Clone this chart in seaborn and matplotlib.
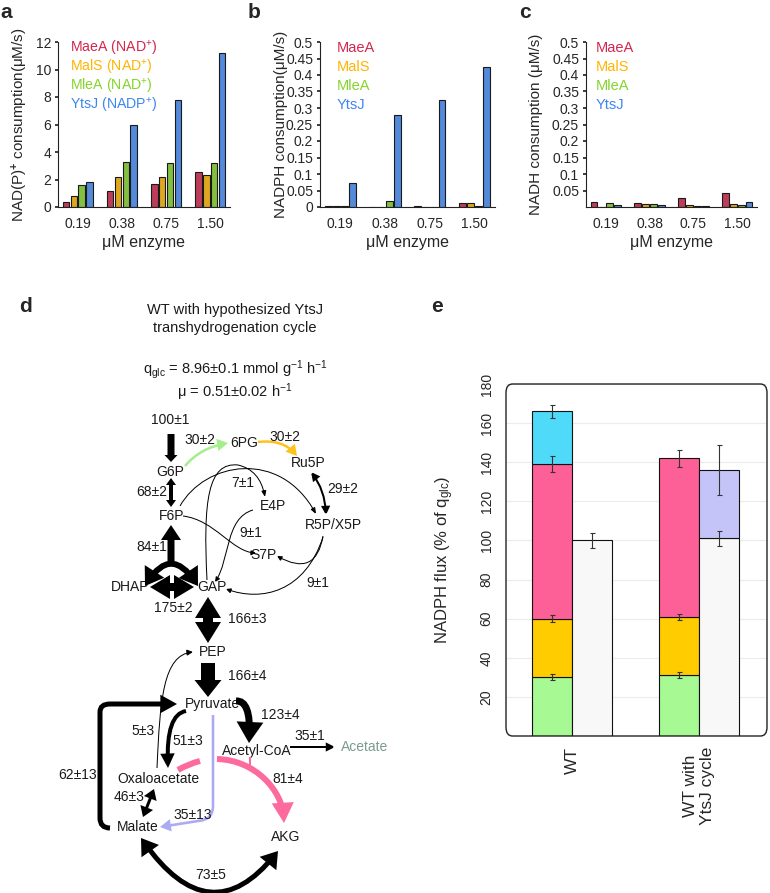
import matplotlib
matplotlib.use("Agg")
import matplotlib.pyplot as plt
import numpy as np
import pandas as pd
import seaborn as sns
from matplotlib.patches import FancyArrowPatch, FancyBboxPatch, Polygon
from matplotlib.path import Path
from matplotlib.ticker import FuncFormatter

# Paneles a-c: consumo de cofactor por enzima málica
CONCENTRATIONS = ['0.19', '0.38', '0.75', '1.50']
ENZYMES = ['MaeA', 'MalS', 'MleA', 'YtsJ']
ENZYME_COLORS = ['#d3264f', '#ffb400', '#84d42c', '#3d86f0']

nadp_plus_rates = [
    [0.40, 1.15, 1.65, 2.55],   # MaeA
    [0.80, 2.20, 2.20, 2.35],   # MalS
    [1.60, 3.30, 3.20, 3.20],   # MleA
    [1.85, 5.95, 7.80, 11.20],  # YtsJ
]
nadph_rates = [
    [0.002, 0.001, 0.003, 0.012],
    [0.003, 0.001, 0.001, 0.011],
    [0.003, 0.017, 0.001, 0.004],
    [0.073, 0.280, 0.325, 0.425],
]
nadh_rates = [
    [0.015, 0.012, 0.027, 0.043],
    [0.001, 0.010, 0.006, 0.009],
    [0.012, 0.008, 0.004, 0.006],
    [0.006, 0.006, 0.003, 0.016],
]

# Panel e: balance de NADPH
STRAINS = ['WT', 'WT with\nYtsJ cycle']
SUPPLY_COLORS = ['#a6f993', '#ffcc00', '#fd6096', '#4fdaf9']
DEMAND_COLOR = '#f8f8f8'
CYCLE_COLOR = '#c4c4f8'
wt_supply = [30, 30, 79, 27]
wt_supply_err = [1.5, 1.8, 4.0, 3.5]
cycle_supply = [31, 30, 81]
cycle_supply_err = [1.5, 1.5, 4.3]
nadph_demand = [100, 101]
nadph_demand_err = [3.8, 3.8]
ytsj_cycle_flux = 35
ytsj_cycle_err = 13

# Panel d: mapa de flujos
METABOLITES = ['G6P', '6PG', 'Ru5P', 'F6P', 'E4P', 'R5P/X5P', 'S7P', 'DHAP',
               'GAP', 'PEP', 'Pyruvate', 'Acetyl-CoA', 'Oxaloacetate', 'Malate', 'AKG']
FLUX_LABELS = ['100±1', '30±2', '30±2', '68±2', '7±1', '29±2', '9±1', '84±1',
               '175±2', '9±1', '166±3', '166±4', '123±4', '35±1', '5±3', '51±3',
               '62±13', '81±4', '46±3', '35±13', '73±5']

# Layout en píxeles de la figura
W, H = 770, 893
PX = 0.72  # puntos por píxel a 100 dpi
METABOLITE_POS = [(170, 472), (244, 443), (308, 463), (172, 516), (273, 506),
                  (333, 525), (263, 555), (130, 587), (212, 587), (213, 652),
                  (212, 704), (257, 751), (158, 779), (138, 827), (286, 837)]
FLUX_POS = [(170, 420), (200, 440), (285, 437), (152, 492), (243, 483), (343, 489),
            (251, 533), (152, 547), (173, 608), (318, 583), (247, 619), (247, 676),
            (280, 715), (310, 736), (143, 731), (188, 741), (78, 775), (288, 779),
            (129, 797), (193, 815), (211, 875)]

sns.set_theme(style='ticks')
plt.rcParams['font.family'] = ['Liberation Sans', 'DejaVu Sans']
plt.rcParams['mathtext.fontset'] = 'custom'
plt.rcParams['mathtext.rm'] = 'Liberation Sans'
plt.rcParams['mathtext.it'] = 'Liberation Sans:italic'
plt.rcParams['mathtext.bf'] = 'Liberation Sans:bold'

fig = plt.figure(figsize=(W / 100, H / 100), dpi=100)


def px_axes(left, top, right, bottom, **kw):
    return fig.add_axes([left / W, 1 - bottom / H, (right - left) / W, (bottom - top) / H], **kw)


def plot_rates(ax, rates, ylim, yticks, ylabel, ylabel_x):
    df = pd.DataFrame({
        'conc': np.tile(CONCENTRATIONS, len(ENZYMES)),
        'enzyme': np.repeat(ENZYMES, len(CONCENTRATIONS)),
        'rate': np.ravel(rates),
    })
    sns.barplot(data=df, x='conc', y='rate', hue='enzyme', order=CONCENTRATIONS,
                hue_order=ENZYMES, palette=ENZYME_COLORS, width=0.72, gap=0.15,
                edgecolor='#1a1a1a', linewidth=0.8, errorbar=None, legend=False, ax=ax)
    ax.set_xlim(-0.45, 3.45)
    ax.set_ylim(*ylim)
    ax.set_yticks(yticks)
    ax.yaxis.set_major_formatter(FuncFormatter(lambda v, _: f'{v:g}'))
    ax.tick_params(axis='x', length=0, pad=7, labelsize=10)
    ax.tick_params(axis='y', length=2, pad=3, labelsize=10)
    ax.set_xlabel('μM enzyme', fontsize=11.5)
    ax.set_ylabel(ylabel, fontsize=11)
    ax.xaxis.set_label_coords(0.5, -0.17)
    ax.yaxis.set_label_coords(ylabel_x, 0.5)
    for spine in ax.spines.values():
        spine.set_linewidth(0.8)
        spine.set_color('#222222')
    sns.despine(ax=ax)


ax_a = px_axes(58, 42, 230, 207)
plot_rates(ax_a, nadp_plus_rates, (0, 12), np.arange(0, 13, 2),
           'NAD(P)$^{\\mathbf{+}}$ consumption(μM/s)', -0.16)
ax_b = px_axes(320, 42, 495, 207)
plot_rates(ax_b, nadph_rates, (0, 0.5), np.arange(0, 0.51, 0.05),
           'NADPH consumption(μM/s)', -0.18)
ax_c = px_axes(586, 42, 757, 207)
plot_rates(ax_c, nadh_rates, (0, 0.5), np.arange(0.05, 0.51, 0.05),
           'NADH consumption (μM/s)', -0.25)

# Panel e
ax_e = px_axes(506, 384, 767, 736)
bar_w = 0.315
xpos = np.arange(len(STRAINS))
err_kw = dict(fmt='none', ecolor='#333333', elinewidth=0.8, capsize=1.8, capthick=0.8)

bottom = 0
for value, err, color in zip(wt_supply, wt_supply_err, SUPPLY_COLORS):
    ax_e.bar(xpos[0] - bar_w / 2, value, bottom=bottom, width=bar_w, color=color,
             edgecolor='#111111', linewidth=0.8, zorder=2)
    ax_e.errorbar(xpos[0] - bar_w / 2, bottom + value, yerr=err, zorder=3, **err_kw)
    bottom += value

bottom = 0
for value, err, color in zip(cycle_supply, cycle_supply_err, SUPPLY_COLORS):
    ax_e.bar(xpos[1] - bar_w / 2, value, bottom=bottom, width=bar_w, color=color,
             edgecolor='#111111', linewidth=0.8, zorder=2)
    ax_e.errorbar(xpos[1] - bar_w / 2, bottom + value, yerr=err, zorder=3, **err_kw)
    bottom += value

ax_e.bar(xpos + bar_w / 2, nadph_demand, width=bar_w, color=DEMAND_COLOR,
         edgecolor='#111111', linewidth=0.8, zorder=2)
ax_e.errorbar(xpos + bar_w / 2, nadph_demand, yerr=nadph_demand_err, zorder=3, **err_kw)
ax_e.bar(xpos[1] + bar_w / 2, ytsj_cycle_flux, bottom=nadph_demand[1], width=bar_w,
         color=CYCLE_COLOR, edgecolor='#111111', linewidth=0.8, zorder=2)
ax_e.errorbar(xpos[1] + bar_w / 2, nadph_demand[1] + ytsj_cycle_flux, yerr=ytsj_cycle_err,
              zorder=3, **err_kw)

ax_e.set_xlim(-0.52, 1.535)
ax_e.set_ylim(0, 180)
ax_e.set_yticks(np.arange(20, 181, 20))
ax_e.set_xticks(xpos)
ax_e.set_xticklabels(STRAINS, rotation=90, fontsize=12.5, va='top', ha='center')
ax_e.tick_params(axis='x', length=0, pad=8)
ax_e.tick_params(axis='y', length=0, pad=9, labelsize=10, labelrotation=90)
for lab in ax_e.get_yticklabels():
    lab.set_va('center')
ax_e.yaxis.grid(True, color='#ececec', linewidth=0.8)
ax_e.set_axisbelow(True)
for spine in ax_e.spines.values():
    spine.set_visible(False)
ax_e.add_patch(FancyBboxPatch((0, 0), 1, 1, boxstyle='round,pad=0,rounding_size=0.025',
                              transform=ax_e.transAxes, fill=False, lw=1.0,
                              ec='#222222', clip_on=False, zorder=4))
ax_e.set_ylabel('NADPH flux (% of q$_{\\mathrm{glc}}$)', fontsize=12)
ax_e.yaxis.set_label_coords(-0.19, 0.5)

# Capa superpuesta en coordenadas de píxel para el panel d, letras y leyendas
ax_d = fig.add_axes([0, 0, 1, 1], zorder=5)
ax_d.set_xlim(0, W)
ax_d.set_ylim(H, 0)
ax_d.axis('off')
ax_d.patch.set_alpha(0)


def block_arrow(start, end, shaft, head_w, head_l, double=False, color='black'):
    p0 = np.array(start, float)
    p1 = np.array(end, float)
    u = (p1 - p0) / np.linalg.norm(p1 - p0)
    n = np.array([-u[1], u[0]])
    b1 = p1 - u * head_l
    if double:
        b0 = p0 + u * head_l
        pts = [p0, b0 + n * head_w / 2, b0 + n * shaft / 2]
    else:
        b0 = p0
        pts = [p0 + n * shaft / 2]
    pts += [b1 + n * shaft / 2, b1 + n * head_w / 2, p1, b1 - n * head_w / 2, b1 - n * shaft / 2]
    if double:
        pts += [b0 - n * shaft / 2, b0 - n * head_w / 2]
    else:
        pts += [p0 - n * shaft / 2]
    ax_d.add_patch(Polygon(pts, closed=True, fc=color, ec='none', zorder=2))


def path_arrow(verts, codes, lw, color='black', style='-|>', head_l=6, head_w=3):
    if style == '-':
        arrowstyle = '-'
    else:
        arrowstyle = f'{style},head_length={head_l},head_width={head_w}'
    ax_d.add_patch(FancyArrowPatch(path=Path(verts, codes), arrowstyle=arrowstyle,
                                   mutation_scale=PX, lw=lw * PX, color=color,
                                   capstyle='butt', joinstyle='miter', zorder=2))


def curve(start, ctrls, end, lw, **kw):
    if not ctrls:
        codes = [Path.MOVETO, Path.LINETO]
    elif len(ctrls) == 1:
        codes = [Path.MOVETO, Path.CURVE3, Path.CURVE3]
    else:
        codes = [Path.MOVETO, Path.CURVE4, Path.CURVE4, Path.CURVE4]
    path_arrow([start, *ctrls, end], codes, lw, **kw)


GREEN_PPP = '#a4ef8c'
YELLOW_PPP = '#ffc21a'
PINK_TCA = '#fc6a9e'
LAVENDER = '#abaaf4'

# glucólisis superior y PPP
block_arrow((171, 434), (171, 462), 7, 13, 7)
curve((185, 466), [(200, 448)], (228, 443), 2.5, color=GREEN_PPP, head_l=7, head_w=4)
curve((258, 442), [(283, 439)], (297, 456), 2.5, color=YELLOW_PPP, head_l=7, head_w=4)
block_arrow((171, 478), (171, 507), 4, 10, 7, double=True)
curve((311, 472), [(325, 490)], (326, 515), 2, style='<|-|>', head_l=6, head_w=3)
curve((180, 506), [(205, 462), (280, 448)], (316, 514), 1, head_l=5, head_w=2)
path_arrow([(207, 580), (203, 500), (208, 462), (238, 465), (260, 470), (265, 497)],
           [Path.MOVETO, Path.CURVE4, Path.CURVE4, Path.CURVE4, Path.CURVE3, Path.CURVE3],
           1, head_l=5, head_w=2)
curve((183, 516), [(215, 520), (232, 552)], (256, 553), 1, head_l=4, head_w=2)
curve((253, 510), [(225, 518), (230, 560)], (215, 582), 1, head_l=4, head_w=2)
curve((323, 536), [(316, 578)], (277, 556), 1, head_l=4, head_w=2)
curve((323, 537), [(305, 592), (262, 602)], (226, 589), 1, head_l=4, head_w=2)

block_arrow((171, 564), (171, 525), 7, 20, 15)
curve((145, 586), [(171, 546)], (198, 586), 6, style='<|-|>', head_l=9, head_w=6)
block_arrow((150, 587), (194, 587), 8, 24, 20, double=True)
block_arrow((208, 597), (208, 643), 10, 26, 21, double=True)
block_arrow((208, 663), (208, 697), 14, 27, 17)

# piruvato, acetato y TCA
curve((236, 701), [(251, 700)], (249, 743), 7, head_l=11, head_w=7)
curve((290, 747), [], (335, 747), 2, head_l=6, head_w=3)
curve((157, 768), [(160, 700), (163, 655)], (193, 652), 1, head_l=5, head_w=2.5)
curve((186, 711), [(166, 714)], (168, 768), 4, head_l=8, head_w=4)
path_arrow([(110, 828), (100, 828), (100, 818), (100, 712), (100, 704), (110, 704), (177, 704)],
           [Path.MOVETO, Path.CURVE3, Path.CURVE3, Path.LINETO, Path.CURVE3, Path.CURVE3,
            Path.LINETO], 5, head_l=9, head_w=5)
path_arrow([(213, 715), (213, 806), (213, 820), (198, 821), (160, 827)],
           [Path.MOVETO, Path.LINETO, Path.CURVE3, Path.CURVE3, Path.LINETO],
           2.6, color=LAVENDER, head_l=7, head_w=4)
curve((178, 770), [(188, 764)], (200, 761), 6, color=PINK_TCA, style='-')
curve((217, 759), [(255, 760), (282, 790)], (284, 823), 6, color=PINK_TCA, head_l=11, head_w=6)
curve((250, 757), [], (250, 766), 2, color=PINK_TCA, style='-')
curve((154, 789), [], (143, 817), 3, style='<|-|>', head_l=6, head_w=4)
curve((141, 838), [(210, 936)], (278, 851), 5, style='<|-|>', head_l=9, head_w=6)

for name, (x, y) in zip(METABOLITES, METABOLITE_POS):
    ax_d.text(x, y, name, ha='center', va='center', fontsize=10, color='#1a1a1a', zorder=1)
ax_d.text(365, 747, 'Acetate', ha='center', va='center', fontsize=10, color='#7b9a92')
for label, (x, y) in zip(FLUX_LABELS, FLUX_POS):
    ax_d.text(x, y, label, ha='center', va='center', fontsize=10, color='#1a1a1a')

ax_d.text(235, 319, 'WT with hypothesized YtsJ\ntranshydrogenation cycle', ha='center',
          va='center', fontsize=10.5, linespacing=1.45, color='#1a1a1a')
ax_d.text(235, 370, 'q$_{\\mathrm{glc}}$ = 8.96±0.1 mmol g$^{\\mathrm{-1}}$ h$^{\\mathrm{-1}}$',
          ha='center', va='center', fontsize=10.5, color='#1a1a1a')
ax_d.text(235, 392, 'μ = 0.51±0.02 h$^{\\mathrm{-1}}$', ha='center', va='center',
          fontsize=10.5, color='#1a1a1a')

# leyendas de texto coloreado (paneles a-c)
legend_rows = [48, 67, 86, 105]
a_labels = ['MaeA (NAD$^{+}$)', 'MalS (NAD$^{+}$)',
            'MleA (NAD$^{+}$)', 'YtsJ (NADP$^{+}$)']
for label, color, y in zip(a_labels, ENZYME_COLORS, legend_rows):
    ax_d.text(70, y, label, ha='left', va='center', fontsize=10.2, color=color)
for x0 in (337, 596):
    for label, color, y in zip(ENZYMES, ENZYME_COLORS, legend_rows):
        ax_d.text(x0, y, label, ha='left', va='center', fontsize=10.5, color=color)

for letter, (x, y) in zip('abcde', [(6, 12), (254, 12), (525, 12), (25, 307), (437, 307)]):
    ax_d.text(x, y, letter, ha='center', va='center', fontsize=15, fontweight='bold')

fig.savefig('out.png', dpi=100)
